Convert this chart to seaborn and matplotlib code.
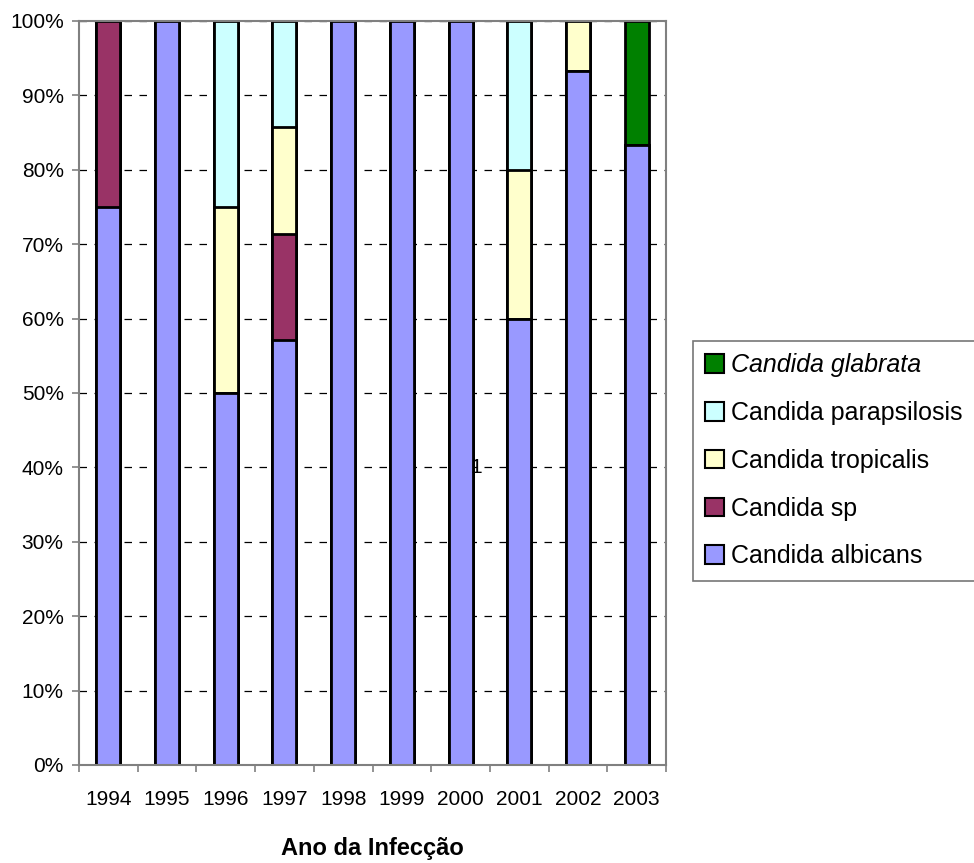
import numpy as np
import pandas as pd
import matplotlib
matplotlib.use("Agg")
import matplotlib.pyplot as plt
import seaborn as sns
from matplotlib.patches import Patch
from matplotlib.ticker import FixedLocator, PercentFormatter

# percentages per year
years = ["1994", "1995", "1996", "1997", "1998", "1999", "2000", "2001", "2002", "2003"]
albicans = [75.0, 100.0, 50.0, 57.1, 100.0, 100.0, 100.0, 60.0, 93.3, 83.3]
sp = [25.0, 0, 0, 14.3, 0, 0, 0, 0, 0, 0]
tropicalis = [0, 0, 25.0, 14.3, 0, 0, 0, 20.0, 6.7, 0]
parapsilosis = [0, 0, 25.0, 14.3, 0, 0, 0, 20.0, 0, 0]
glabrata = [0, 0, 0, 0, 0, 0, 0, 0, 0, 16.7]

species = ["Candida albicans", "Candida sp", "Candida tropicalis",
           "Candida parapsilosis", "Candida glabrata"]
colors = ["#9999FF", "#993366", "#FFFFCC", "#CCFFFF", "#008000"]


def build_df():
    df = pd.DataFrame({"year": years, "Candida albicans": albicans, "Candida sp": sp,
                       "Candida tropicalis": tropicalis, "Candida parapsilosis": parapsilosis,
                       "Candida glabrata": glabrata})
    # scale each year to exactly 100 and build cumulative tops
    tot = df[species].sum(axis=1)
    for s in species:
        df[s] = df[s] / tot * 100
    cum = df[species].cumsum(axis=1)
    cum["year"] = df["year"]
    return cum


def plot(cum):
    sns.set_style("white")
    plt.rcParams["font.family"] = ["Liberation Sans", "DejaVu Sans"]
    plt.rcParams["text.color"] = "black"
    plt.rcParams["xtick.labelcolor"] = "black"
    plt.rcParams["ytick.labelcolor"] = "black"
    plt.rcParams["axes.labelcolor"] = "black"

    fig = plt.figure(figsize=(9.74, 8.63), dpi=100)
    ax = fig.add_axes([0.0811, 0.1136, 0.6027, 0.8621])

    # draw cumulative bars from the top species down so segments stack
    for s, c in reversed(list(zip(species, colors))):
        sns.barplot(data=cum, x="year", y=s, color=c, width=0.41, saturation=1,
                    edgecolor="black", linewidth=2, ax=ax, zorder=3)

    ax.set_ylim(0, 100)
    ax.set_xlim(-0.5, 9.5)
    ax.set_yticks(np.arange(0, 101, 10))
    ax.yaxis.set_major_formatter(PercentFormatter(decimals=0))
    ax.yaxis.grid(True, color="black", linestyle=(0, (6, 6)), linewidth=0.9, zorder=0)
    ax.xaxis.set_minor_locator(FixedLocator(np.arange(-0.5, 10, 1)))
    ax.tick_params(axis="y", which="major", left=True, length=5, color="#808080",
                   width=1.2, pad=6, labelsize=15, labelcolor="black")
    ax.tick_params(axis="x", which="major", bottom=False, pad=14.5, labelsize=15,
                   labelcolor="black")
    ax.tick_params(axis="x", which="minor", bottom=True, length=5, color="#808080", width=1.2)

    for sp_ in ax.spines.values():
        sp_.set_visible(True)
        sp_.set_color("#808080")
        sp_.set_linewidth(1.5)
        sp_.set_zorder(4)

    ax.set_ylabel("")
    ax.set_xlabel("Ano da Infecção", fontsize=17, fontweight="bold", labelpad=20,
                  color="black")

    ax.text(6.26, 40, "1", fontsize=15, ha="center", va="center", color="black", zorder=6)

    handles = [Patch(facecolor=c, edgecolor="black", linewidth=1.5)
               for c in reversed(colors)]
    labels = list(reversed(species))
    leg = fig.legend(handles, labels, loc="center left", bbox_to_anchor=(0.711, 0.466),
                     fontsize=18, frameon=True, fancybox=False, borderpad=0.5,
                     labelspacing=0.95, handlelength=0.75, handleheight=0.75,
                     handletextpad=0.3, borderaxespad=0)
    leg.get_frame().set_edgecolor("#555555")
    leg.get_frame().set_linewidth(1.2)
    for t in leg.get_texts():
        t.set_color("black")
    leg.get_texts()[0].set_fontstyle("italic")

    fig.savefig("out.png", dpi=100)


if __name__ == "__main__":
    plot(build_df())
